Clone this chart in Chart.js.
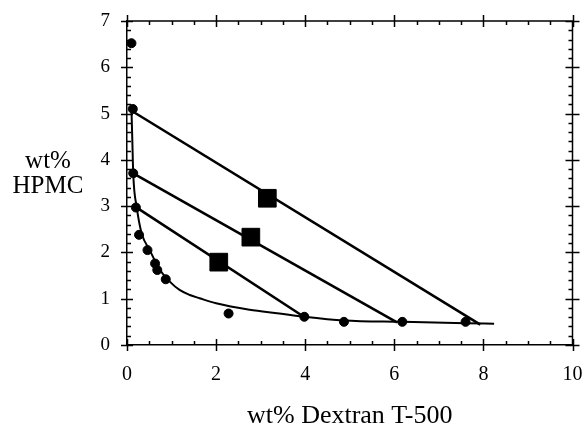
<!DOCTYPE html>
<html>
<head>
<meta charset="utf-8">
<script src="https://cdn.jsdelivr.net/npm/chart.js@4"></script>
<style>
  body { margin: 0; background: #fff; }
  .wrap { position: relative; width: 586px; height: 426px; }
  .y-title {
    position: absolute; left: 0; top: 147px; width: 96px;
    text-align: center; font-family: "Liberation Serif", serif;
    font-size: 25px; line-height: 25px; color: #000;
  }
</style>
</head>
<body>
<div class="wrap">
  <canvas id="myChart" width="586" height="426"></canvas>
  <div class="y-title">wt%<br>HPMC</div>
</div>
<script>
// binodal data points (wt% dextran, wt% HPMC)
var binodal_x = [0.10, 0.13, 0.14, 0.20, 0.27, 0.46, 0.63, 0.68, 0.87, 2.28, 3.98, 4.87, 6.18, 7.60];
var binodal_y = [6.52, 5.10, 3.71, 2.97, 2.38, 2.05, 1.76, 1.62, 1.42, 0.68, 0.61, 0.50, 0.50, 0.50];

// total compositions (squares)
var mix_x = [3.15, 2.78, 2.06];
var mix_y = [3.17, 2.33, 1.79];

// fitted binodal curve
var curve_x = [0.10, 0.12, 0.14, 0.22, 0.33, 0.51, 0.74, 0.96, 1.18, 1.41, 1.63, 2.00, 2.75, 3.42, 3.98, 4.87, 6.18, 7.60, 8.24];
var curve_y = [5.10, 4.40, 3.70, 2.97, 2.41, 2.05, 1.62, 1.37, 1.19, 1.08, 1.01, 0.90, 0.76, 0.68, 0.61, 0.53, 0.50, 0.47, 0.46];

// tie lines: [x_start, y_start, x_end, y_end]
var tie_1 = [0.12, 5.05, 7.93, 0.44];
var tie_2 = [0.14, 3.71, 6.06, 0.49];
var tie_3 = [0.20, 2.98, 3.97, 0.61];

var x_ticks = [0, 2, 4, 6, 8, 10];
var y_ticks = [0, 1, 2, 3, 4, 5, 6, 7];

function to_points(xs, ys) {
    return xs.map((x, i) => ({x: x, y: ys[i]}));
}

function tie_dataset(t) {
    return {
        data: [{x: t[0], y: t[1]}, {x: t[2], y: t[3]}],
        showLine: true,
        borderColor: '#000',
        borderWidth: 2.6,
        pointRadius: 0
    };
}

// tick marks crossing the frame, major and minor
const frame_ticks = {
    id: 'frameTicks',
    afterDraw(chart) {
        const ctx = chart.ctx;
        const a = chart.chartArea;
        const xs = chart.scales.x, ys = chart.scales.y;
        ctx.save();
        ctx.strokeStyle = '#000';
        ctx.lineWidth = 1.5;
        ctx.beginPath();
        // top and right frame
        ctx.moveTo(a.left, a.top); ctx.lineTo(a.right, a.top); ctx.lineTo(a.right, a.bottom);
        for (let i = 0; i <= 20; i++) {
            const v = i * 0.5;
            const px = Math.round(xs.getPixelForValue(v)) + 0.5;
            if (i % 4 == 0) {
                ctx.moveTo(px, a.bottom - 6); ctx.lineTo(px, a.bottom + 6);
                ctx.moveTo(px, a.top - 6); ctx.lineTo(px, a.top + 6);
            } else {
                ctx.moveTo(px, a.bottom - 4); ctx.lineTo(px, a.bottom);
                ctx.moveTo(px, a.top + 4); ctx.lineTo(px, a.top);
            }
        }
        for (let i = 0; i <= 35; i++) {
            const v = i * 0.2;
            const py = Math.round(ys.getPixelForValue(v)) + 0.5;
            if (i % 5 == 0) {
                ctx.moveTo(a.left - 6, py); ctx.lineTo(a.left + 6, py);
                ctx.moveTo(a.right - 7, py); ctx.lineTo(a.right + 7, py);
            } else {
                ctx.moveTo(a.left, py); ctx.lineTo(a.left + 4, py);
                ctx.moveTo(a.right, py); ctx.lineTo(a.right - 4, py);
            }
        }
        ctx.stroke();
        ctx.restore();
    }
};

var ctx = document.getElementById('myChart').getContext('2d');
var chart = new Chart(ctx, {
    type: 'scatter',
    data: {
        datasets: [
            {
                data: to_points(binodal_x, binodal_y),
                backgroundColor: '#000',
                borderColor: '#000',
                pointRadius: 4.5,
                pointStyle: 'circle'
            },
            {
                data: to_points(mix_x, mix_y),
                backgroundColor: '#000',
                borderColor: '#000',
                pointRadius: 12.5,
                pointStyle: 'rect'
            },
            {
                data: to_points(curve_x, curve_y),
                showLine: true,
                borderColor: '#000',
                borderWidth: 2,
                pointRadius: 0,
                cubicInterpolationMode: 'monotone'
            },
            tie_dataset(tie_1),
            tie_dataset(tie_2),
            tie_dataset(tie_3)
        ]
    },
    options: {
        responsive: false,
        animation: false,
        layout: { padding: { top: 21, right: 11, left: 0, bottom: 0 } },
        plugins: { legend: { display: false }, tooltip: { enabled: false } },
        scales: {
            x: {
                type: 'linear', position: 'bottom', min: 0, max: 10,
                afterBuildTicks: (s) => { s.ticks = x_ticks.map(v => ({value: v})); },
                afterFit: (s) => { s.height = 81; s.paddingLeft = 0; s.paddingRight = 0; },
                grid: { display: false, drawTicks: false },
                border: { color: '#000', width: 1.5 },
                ticks: {
                    color: '#000', padding: 18, maxRotation: 0,
                    font: { family: 'Liberation Serif', size: 20 }
                },
                title: {
                    display: true, text: 'wt% Dextran T-500', color: '#000',
                    font: { family: 'Liberation Serif', size: 26, lineHeight: 1 },
                    padding: { top: 0, bottom: -3 }
                }
            },
            y: {
                type: 'linear', position: 'left', min: 0, max: 7,
                afterBuildTicks: (s) => { s.ticks = y_ticks.map(v => ({value: v})); },
                afterFit: (s) => { s.width = 127; s.paddingTop = 0; s.paddingBottom = 0; },
                grid: { display: false, drawTicks: false },
                border: { color: '#000', width: 1.5 },
                ticks: {
                    color: '#000', padding: 17,
                    font: { family: 'Liberation Serif', size: 19 }
                }
            }
        }
    },
    plugins: [frame_ticks]
});
</script>
</body>
</html>
